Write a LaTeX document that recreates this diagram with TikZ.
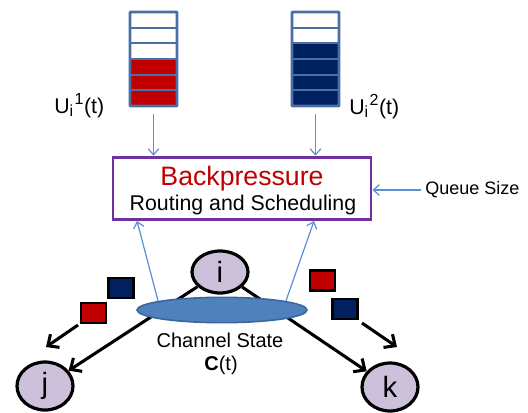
\documentclass[tikz,border=0pt]{standalone}
\usepackage{fontspec}
\setmainfont{Liberation Sans}
\usetikzlibrary{arrows.meta,shapes.geometric,calc}
\definecolor{qframe}{HTML}{4A6FA5}
\definecolor{qred}{HTML}{C00000}
\definecolor{qblue}{HTML}{002060}
\definecolor{bpurple}{HTML}{7030A0}
\definecolor{lblue}{HTML}{5B8FD4}
\definecolor{nodefill}{HTML}{CCC0DA}
\definecolor{chfill}{HTML}{4F81BD}
\definecolor{chdraw}{HTML}{3B679E}
\tikzset{
  qslot/.style={draw=qframe, line width=1.5pt},
  qouter/.style={draw=qframe, line width=2.2pt, rounded corners=0.8pt, minimum width=35.25pt, minimum height=70.5pt, inner sep=0pt},
  thinarrow/.style={draw=lblue, line width=0.9pt, -{Straight Barb[length=4.5pt,width=8pt]}},
  vert/.style={ellipse, draw=black, line width=2.4pt, fill=nodefill, inner sep=0pt, minimum width=42pt, font=\fontsize{22}{22}\selectfont},
  bigarrow/.style={draw=black, line width=2.3pt, -{Straight Barb[length=6.5pt,width=12pt,line width=2.3pt]}},
  pkt/.style={draw=black, line width=1.6pt, minimum width=18.75pt, minimum height=15pt, inner sep=0pt},
  lbl/.style={font=\fontsize{16}{19}\selectfont, anchor=base west, inner sep=0pt}
}
\begin{document}
\begin{tikzpicture}[x=0.75pt,y=-0.75pt]
\useasboundingbox (0,0) rectangle (528,412);
% queue 1
\foreach \k/\c in {0/white,1/white,2/white,3/qred,4/qred,5/qred}
  \filldraw[qslot, fill=\c] (130,12+\k*15.667) rectangle ++(47,15.667);
\node[qouter] (q1) at (153.5,59) {};
% queue 2
\foreach \k/\c in {0/white,1/white,2/qblue,3/qblue,4/qblue,5/qblue}
  \filldraw[qslot, fill=\c] (292,12+\k*15.667) rectangle ++(47,15.667);
\node[qouter] (q2) at (315.5,59) {};
% labels
\node[lbl] (u1) at (54,113) {U\textsubscript{\fontsize{12}{12}\selectfont i}\kern0.5pt\textsuperscript{\fontsize{12}{12}\selectfont 1}(t)};
\node[lbl] (u2) at (349,114) {U\textsubscript{\fontsize{12}{12}\selectfont i}\kern0.5pt\textsuperscript{\fontsize{12}{12}\selectfont 2}(t)};
% backpressure box
\node[draw=bpurple, line width=2.2pt, minimum width=193.5pt, minimum height=47pt, inner sep=0pt] (bp) at (242,188.5) {};
\node[font=\fontsize{20}{23}\selectfont, text=qred, inner sep=0pt] (bp1) at (242,179) {Backpressure};
\node[font=\fontsize{16}{19}\selectfont, inner sep=0pt] (bp2) at (243,205) {Routing and Scheduling};
\draw[thinarrow, shorten <=5pt] (q1.south) -- (q1.south |- bp.north);
\draw[thinarrow, shorten <=5pt] (q2.south) -- (q2.south |- bp.north);
% queue size
\node[font=\fontsize{13.5}{15}\selectfont, anchor=west, inner sep=0pt] (qs) at (425,190) {Queue Size};
\draw[thinarrow] ([xshift=-3pt]qs.west) -- (bp.east |- qs.west);
% vertices
\node[vert, minimum height=31.5pt] (i) at (220,272) {i};
\node[vert, minimum height=36pt] (j) at (45,386) {j};
\node[vert, minimum height=36pt] (k) at (390,387) {k};
\draw[bigarrow] (i) -- (j);
\draw[bigarrow] (i) -- (k);
% channel ellipse
\node[ellipse, fill=chfill, draw=chdraw, line width=1.2pt, minimum width=127.5pt, minimum height=19pt, inner sep=0pt] (ch) at (222,310) {};
\coordinate (a1) at (137,221);
\coordinate (a2) at (314,221);
\draw[thinarrow] (ch.172) -- (a1);
\draw[thinarrow] (ch.8) -- (a2);
\node[font=\fontsize{15}{18}\selectfont, inner sep=0pt] (cs) at (220,340) {Channel State};
\node[font=\fontsize{15}{18}\selectfont, inner sep=0pt] (ct) at (221,365) {\textbf{C}(t)};
% packets
\node[pkt, fill=qred] (p1) at (93.5,313) {};
\node[pkt, fill=qblue] (p2) at (121,288) {};
\node[pkt, fill=qred] (p3) at (322.5,280.5) {};
\node[pkt, fill=qblue] (p4) at (345,309) {};
\coordinate (la1) at (78,325);
\coordinate (la2) at (46,347);
\coordinate (ra1) at (362,323);
\coordinate (ra2) at (397,347);
\draw[bigarrow] (la1) -- (la2);
\draw[bigarrow] (ra1) -- (ra2);
\end{tikzpicture}
\end{document}
